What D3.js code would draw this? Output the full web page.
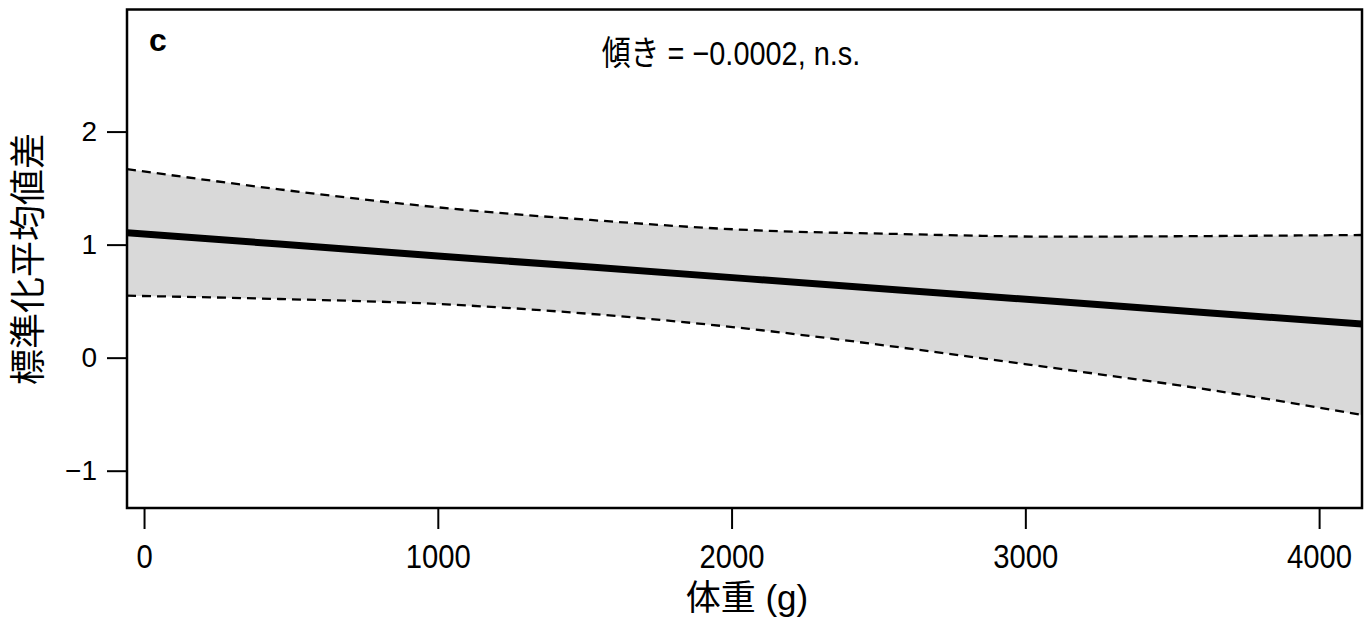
<!DOCTYPE html>
<html>
<head>
<meta charset="utf-8">
<script src="https://cdn.jsdelivr.net/npm/d3@7"></script>
<style>
  html, body { margin: 0; padding: 0; background: #fff; }
  svg { display: block; font-family: "Liberation Sans", Arial, "Noto Sans CJK JP", sans-serif; }
</style>
</head>
<body>
<svg id="grafico"></svg>
<script>
// 体重 (g) の位置ごとに読み取った値
var pesos     = [-58, 460, 1000, 1520, 2060, 2570, 3120, 3630, 4146];
var ajuste    = [1.105, 1.005, 0.899, 0.801, 0.697, 0.599, 0.494, 0.396, 0.297];
var superior  = [1.668, 1.489, 1.330, 1.218, 1.129, 1.094, 1.070, 1.076, 1.085];
var inferior  = [0.548, 0.519, 0.475, 0.387, 0.255, 0.092, -0.100, -0.286, -0.507];

var ticksX = [0, 1000, 2000, 3000, 4000];
var ticksY = [-1, 0, 1, 2];

var rotuloPainel = 'c';
var rotuloInclinacao = '傾き = −0.0002, n.s.';
var tituloX = '体重 (g)';
var tituloY = '標準化平均値差';

var largura = 1366, altura = 620;
var margem = { esquerda: 127, direita: 4, superior: 9.5, inferior: 112 };
var larguraPlotagem = largura - margem.esquerda - margem.direita;
var alturaPlotagem = altura - margem.superior - margem.inferior;

var svg = d3.select('#grafico')
            .attr('width', largura)
            .attr('height', altura);

var plotagem = svg.append('g')
                  .attr('transform', 'translate(' + margem.esquerda + ',' + margem.superior + ')');

var x = d3.scaleLinear().domain([-58, 4146]).range([0, larguraPlotagem]);
var y = d3.scaleLinear().domain([-1.33, 3.08]).range([alturaPlotagem, 0]);

var dados = pesos.map((p, i) => ({ p: p, f: ajuste[i], s: superior[i], inf: inferior[i] }));

plotagem.append('defs').append('clipPath').attr('id', 'recorte')
  .append('rect').attr('width', larguraPlotagem).attr('height', alturaPlotagem);

var camada = plotagem.append('g').attr('clip-path', 'url(#recorte)');

camada.append('path')
  .datum(dados)
  .attr('fill', '#d9d9d9')
  .attr('d', d3.area().curve(d3.curveMonotoneX)
    .x(d => x(d.p)).y0(d => y(d.inf)).y1(d => y(d.s)));

['s', 'inf'].forEach(function (k) {
  camada.append('path')
    .datum(dados)
    .attr('fill', 'none')
    .attr('stroke', '#000')
    .attr('stroke-width', 2.3)
    .attr('stroke-dasharray', '9,6')
    .attr('d', d3.line().curve(d3.curveMonotoneX).x(d => x(d.p)).y(d => y(d[k])));
});

camada.append('path')
  .datum(dados)
  .attr('fill', 'none')
  .attr('stroke', '#000')
  .attr('stroke-width', 7)
  .attr('d', d3.line().x(d => x(d.p)).y(d => y(d.f)));

// eixos
var eixoX = plotagem.append('g')
  .attr('transform', 'translate(0,' + alturaPlotagem + ')')
  .call(d3.axisBottom(x).tickValues(ticksX).tickSize(21).tickPadding(15).tickFormat(d3.format('d')));
eixoX.select('.domain').remove();
eixoX.selectAll('line').attr('stroke-width', 2);
eixoX.selectAll('text')
  .attr('font-size', 34)
  .attr('fill', '#000')
  .attr('transform', 'scale(0.86,1)');

var eixoY = plotagem.append('g')
  .call(d3.axisLeft(y).tickValues(ticksY).tickSize(20).tickPadding(10).tickFormat(d => d < 0 ? '−' + Math.abs(d) : d));
eixoY.select('.domain').remove();
eixoY.selectAll('line').attr('stroke-width', 2);
eixoY.selectAll('text')
  .attr('font-size', 28)
  .attr('fill', '#000');

// caixa
plotagem.append('rect')
  .attr('width', larguraPlotagem)
  .attr('height', alturaPlotagem)
  .attr('fill', 'none')
  .attr('stroke', '#000')
  .attr('stroke-width', 2.5);

plotagem.append('text')
  .attr('x', 22).attr('y', 41)
  .attr('font-size', 32).attr('font-weight', 'bold')
  .text(rotuloPainel);

svg.append('text')
  .attr('transform', 'translate(731,65) scale(0.85,1)')
  .attr('text-anchor', 'middle')
  .attr('font-size', 34)
  .text(rotuloInclinacao);

svg.append('text')
  .attr('x', 747).attr('y', 610)
  .attr('text-anchor', 'middle')
  .attr('font-size', 35)
  .text(tituloX);

svg.append('text')
  .attr('transform', 'translate(28,259) rotate(-90)')
  .attr('text-anchor', 'middle')
  .attr('dominant-baseline', 'central')
  .attr('font-size', 36)
  .text(tituloY);
</script>
</body>
</html>
